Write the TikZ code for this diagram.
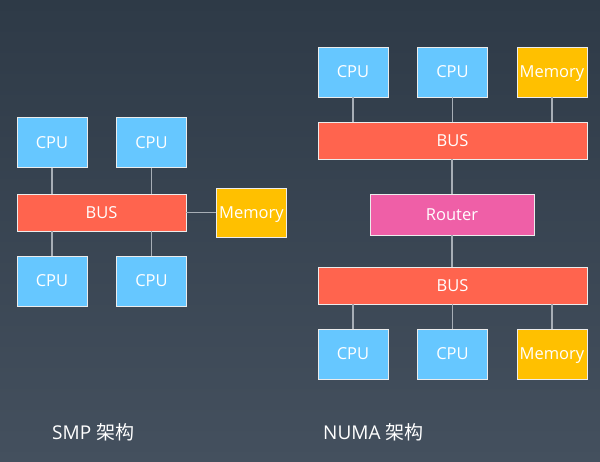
\documentclass[tikz,border=0pt]{standalone}
\usepackage{fontspec}
\setmainfont{Open Sans}
\newfontfamily\cjk{Noto Sans CJK SC}
\usepackage{tikz}
\usetikzlibrary{positioning,calc}

\definecolor{bgtop}{HTML}{2E3A47}
\definecolor{bgbot}{HTML}{44505E}
\definecolor{cpublue}{HTML}{66C7FF}
\definecolor{busred}{HTML}{FF644E}
\definecolor{memyellow}{HTML}{FFC000}
\definecolor{routerpink}{HTML}{EF5FA7}
\definecolor{linkgray}{HTML}{A7AEB6}

\tikzset{
  unit/.style={draw=white!85!gray, line width=0.8pt, text=white, inner sep=0pt,
    text height=12pt, text depth=0pt, font=\fontsize{16.5}{19}\selectfont},
  cpubox/.style={unit, fill=cpublue, minimum width=70pt, minimum height=50pt},
  membox/.style={unit, fill=memyellow, minimum width=70pt, minimum height=50pt},
  busbox/.style={unit, fill=busred, minimum height=37pt},
  routerbox/.style={unit, fill=routerpink, minimum width=164pt, minimum height=41pt},
  link/.style={draw=linkgray, line width=1.3pt},
  caption/.style={text=white, anchor=west, inner sep=0pt, font=\fontsize{19}{23}\selectfont}
}

\begin{document}
\begin{tikzpicture}[x=1pt,y=-1pt]
  % Background
  \shade[top color=bgtop, bottom color=bgbot] (0,0) rectangle (600,462);
  \useasboundingbox (0,0) rectangle (600,462);

  % SMP
  \node[cpubox] (smpcpua) at (52,142.5) {CPU};
  \node[cpubox] (smpcpub) at (151.5,142.5) {CPU};
  \node[busbox, minimum width=169pt] (smpbus) at (101.5,212.5) {BUS};
  \node[membox, minimum height=49pt] (smpmem) at (251.5,212.5) {Memory};
  \node[cpubox] (smpcpuc) at (52,281) {CPU};
  \node[cpubox] (smpcpud) at (151.5,281) {CPU};
  \draw[link] (smpcpua.south) -- (smpcpua.south |- smpbus.north);
  \draw[link] (smpcpub.south) -- (smpcpub.south |- smpbus.north);
  \draw[link] (smpcpuc.north) -- (smpcpuc.north |- smpbus.south);
  \draw[link] (smpcpud.north) -- (smpcpud.north |- smpbus.south);
  \draw[link] (smpbus.east) -- (smpmem.west);
  \node[caption] (smplabel) at (52,432) {SMP {\cjk 架构}};

  % NUMA
  \node[cpubox] (numacpua) at (353,72) {CPU};
  \node[cpubox] (numacpub) at (452.5,72) {CPU};
  \node[membox] (numamema) at (552,72) {Memory};
  \node[busbox, minimum width=269pt] (numabusa) at (452.5,140.5) {BUS};
  \node[routerbox] (router) at (452,214.5) {Router};
  \node[busbox, minimum width=269pt] (numabusb) at (452.5,285.5) {BUS};
  \node[cpubox] (numacpuc) at (353,354) {CPU};
  \node[cpubox] (numacpud) at (452.5,354) {CPU};
  \node[membox] (numamemb) at (552,354) {Memory};
  \foreach \n in {numacpua,numacpub,numamema}
    \draw[link] (\n.south) -- (\n.south |- numabusa.north);
  \foreach \n in {numacpuc,numacpud,numamemb}
    \draw[link] (\n.north) -- (\n.north |- numabusb.south);
  \draw[link] (numabusa.south -| router.north) -- (router.north);
  \draw[link] (router.south) -- (router.south |- numabusb.north);
  \node[caption] (numalabel) at (323,432) {NUMA {\cjk 架构}};
\end{tikzpicture}
\end{document}
